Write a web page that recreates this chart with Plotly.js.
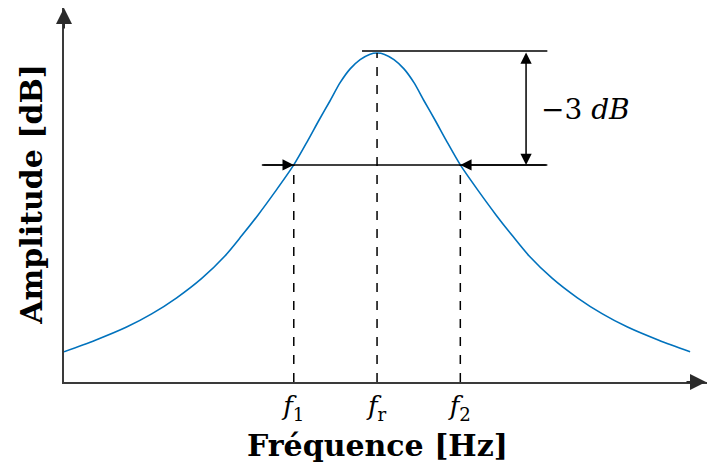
<!DOCTYPE html>
<html>
<head>
<meta charset="utf-8">
<script src="https://cdn.plot.ly/plotly-3.0.1.min.js"></script>
<style>html,body{margin:0;padding:0;background:#fff;}#chart{width:707px;height:465px;}</style>
</head>
<body>
<div id="chart"></div>
<script>
// ---- data (arbitrary units) ----
const frequency = [0, 5, 10, 14, 18, 22, 25.7, 28.4, 31, 33.7, 36.7, 39, 40.7, 42.5, 44.1, 45.7, 47.3, 48.8, 50,
                   51.2, 52.7, 54.3, 55.9, 57.5, 59.3, 61, 63.3, 66.3, 69, 71.6, 74.3, 78, 82, 86, 90, 95, 100];
const amplitude = [9.2, 12.7, 16.7, 20.7, 25.6, 31.5, 38.3, 44.5, 50.8, 57.8, 66, 73.6, 79.5, 85.5, 91, 95.2, 98, 99.6, 100,
                   99.6, 98, 95.2, 91, 85.5, 79.5, 73.6, 66, 57.8, 50.8, 44.5, 38.3, 31.5, 25.6, 20.7, 16.7, 12.7, 9.2];
const markFreqs = [36.7, 50, 63.3];            // f1, fr, f2
const markLevels = [66, 100, 66];              // curve level at each mark
const markLabels = ['<i>f</i><sub>1</sub>', '<i>f</i><sub>r</sub>', '<i>f</i><sub>2</sub>'];
const peakLevel = 100.6;
const cutLevel = 66;                            // -3 dB level
const dropLabel = '−3 <i>dB</i>';
const xTitle = '<b>Fréquence [Hz]</b>';
const yTitle = '<b>Amplitude [dB]</b>';

const serif = 'DejaVu Serif, serif';
const shapes = [];
markFreqs.forEach((f, i) => {
  shapes.push({type: 'line', xref: 'x', yref: 'y', x0: f, x1: f, y0: 0, y1: markLevels[i],
    line: {color: '#000', width: 1.5, dash: 'dash'}});
});
// horizontal reference lines
shapes.push({type: 'line', xref: 'x', yref: 'y', x0: 47.6, x1: 77.2, y0: peakLevel, y1: peakLevel, line: {color: '#000', width: 1.5}});
shapes.push({type: 'line', xref: 'x', yref: 'y', x0: 31.6, x1: 77.2, y0: cutLevel, y1: cutLevel, line: {color: '#000', width: 1.5}});

const arrowCommon = {text: '', showarrow: true, arrowhead: 2, arrowsize: 1.5, arrowwidth: 1.5, arrowcolor: '#000',
  xref: 'x', yref: 'y', axref: 'x', ayref: 'y', standoff: 0};
const annotations = [
  Object.assign({}, arrowCommon, {x: markFreqs[0], y: cutLevel, ax: 31.6, ay: cutLevel}),
  Object.assign({}, arrowCommon, {x: markFreqs[2], y: cutLevel, ax: 77.2, ay: cutLevel}),
  Object.assign({}, arrowCommon, {x: 73.8, y: cutLevel, ax: 73.8, ay: peakLevel, arrowside: 'end+start'}),
  {text: dropLabel, showarrow: false, xref: 'x', yref: 'y', x: 75.9, y: 82.7, xanchor: 'left', yanchor: 'middle',
    font: {family: serif, size: 28, color: '#000'}},
  // axis arrowheads
  {text: '', showarrow: true, arrowhead: 2, arrowsize: 1.6, arrowwidth: 2, arrowcolor: '#2b2b2b',
    xref: 'paper', yref: 'paper', x: 1, y: 0, ax: -22, ay: 0},
  {text: '', showarrow: true, arrowhead: 2, arrowsize: 1.6, arrowwidth: 2, arrowcolor: '#2b2b2b',
    xref: 'paper', yref: 'paper', x: 0, y: 1, ax: 0, ay: 22},
  // axis titles
  {text: xTitle, showarrow: false, xref: 'paper', yref: 'paper', x: (377 - 64) / 643, y: -0.17,
    xanchor: 'center', yanchor: 'middle', font: {family: serif, size: 30, color: '#000'}},
  {text: yTitle, showarrow: false, xref: 'paper', yref: 'paper', x: -0.05, y: 0.503, textangle: -90,
    xanchor: 'center', yanchor: 'middle', font: {family: serif, size: 30, color: '#000'}}
];

const trace = {x: frequency, y: amplitude, type: 'scatter', mode: 'lines',
  line: {color: '#0072BD', width: 1.6, shape: 'spline', smoothing: 0.8}, hoverinfo: 'skip'};

const layout = {
  width: 707, height: 465,
  margin: {l: 64, r: 0, t: 8, b: 83, pad: 0},
  paper_bgcolor: '#fff', plot_bgcolor: '#fff',
  showlegend: false,
  xaxis: {range: [0, 102.7], showgrid: false, zeroline: false, showline: true, linecolor: '#3a3a3a', linewidth: 2,
    tickmode: 'array', tickvals: markFreqs, ticktext: markLabels, ticks: '',
    tickfont: {family: serif, size: 26, color: '#000'}, fixedrange: true},
  yaxis: {range: [0, 113.7], showgrid: false, zeroline: false, showline: true, linecolor: '#3a3a3a', linewidth: 2,
    showticklabels: false, ticks: '', fixedrange: true},
  shapes: shapes,
  annotations: annotations
};
Plotly.newPlot('chart', [trace], layout, {displayModeBar: false, staticPlot: true});
</script>
</body>
</html>
